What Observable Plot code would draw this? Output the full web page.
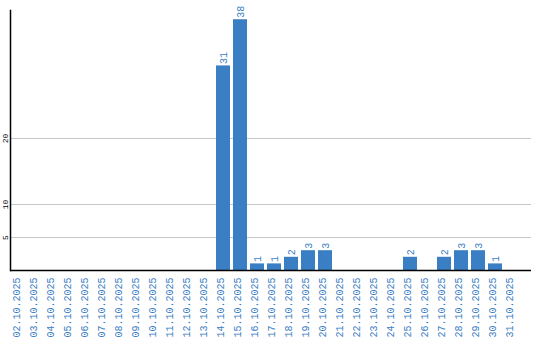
<!DOCTYPE html>
<html>
<head>
<meta charset="utf-8">
<script src="https://cdn.jsdelivr.net/npm/d3@7"></script>
<script src="https://cdn.jsdelivr.net/npm/@observablehq/plot@0.6"></script>
<style>
  html, body { margin: 0; padding: 0; background: #fff; }
  svg { display: block; }
</style>
</head>
<body>
<div id="chart"></div>
<script>
const dates = ["02.10.2025","03.10.2025","04.10.2025","05.10.2025","06.10.2025","07.10.2025","08.10.2025","09.10.2025","10.10.2025","11.10.2025","12.10.2025","13.10.2025","14.10.2025","15.10.2025","16.10.2025","17.10.2025","18.10.2025","19.10.2025","20.10.2025","21.10.2025","22.10.2025","23.10.2025","24.10.2025","25.10.2025","26.10.2025","27.10.2025","28.10.2025","29.10.2025","30.10.2025","31.10.2025"];
const counts = [0,0,0,0,0,0,0,0,0,0,0,0,31,38,1,1,2,3,3,0,0,0,0,2,0,2,3,3,1,0];
const yTicks = [5, 10, 20];

const data = dates.map((d, i) => ({date: d, value: counts[i]}));
const blue = "#3a7ec4";
const mono = "Liberation Mono, DejaVu Sans Mono, monospace";

const chart = Plot.plot({
  width: 540,
  height: 340,
  marginTop: 10,
  marginLeft: 10,
  marginRight: 9,
  marginBottom: 70,
  style: {fontFamily: mono, background: "#fff"},
  x: {domain: dates, range: [10, 520], paddingInner: 0.18, paddingOuter: 0.04, axis: null},
  y: {domain: [0, 39.4], axis: null},
  marks: [
    Plot.ruleY(yTicks, {stroke: "#c8c8c8", strokeWidth: 1}),
    Plot.barY(data, {x: "date", y: "value", fill: blue}),
    Plot.text(data.filter(d => d.value > 0), {
      x: "date", y: "value", text: d => String(d.value),
      rotate: -90, textAnchor: "start", dy: -2, fill: blue, fontSize: 10, fontFamily: mono
    }),
    Plot.text(dates, {
      x: d => d, frameAnchor: "bottom", dy: 7, text: d => d,
      rotate: -90, textAnchor: "end", fill: blue, fontSize: 10, fontFamily: mono
    }),
    Plot.text(yTicks, {
      y: d => d, frameAnchor: "left", dx: -5, text: d => String(d),
      rotate: -90, textAnchor: "middle", fill: "#000", fontSize: 8, fontFamily: mono
    }),
    Plot.ruleY([0], {stroke: "#000", strokeWidth: 1.5}),
    Plot.frame({anchor: "left", stroke: "#000", strokeWidth: 1.5})
  ]
});
document.getElementById("chart").appendChild(chart);
</script>
</body>
</html>
